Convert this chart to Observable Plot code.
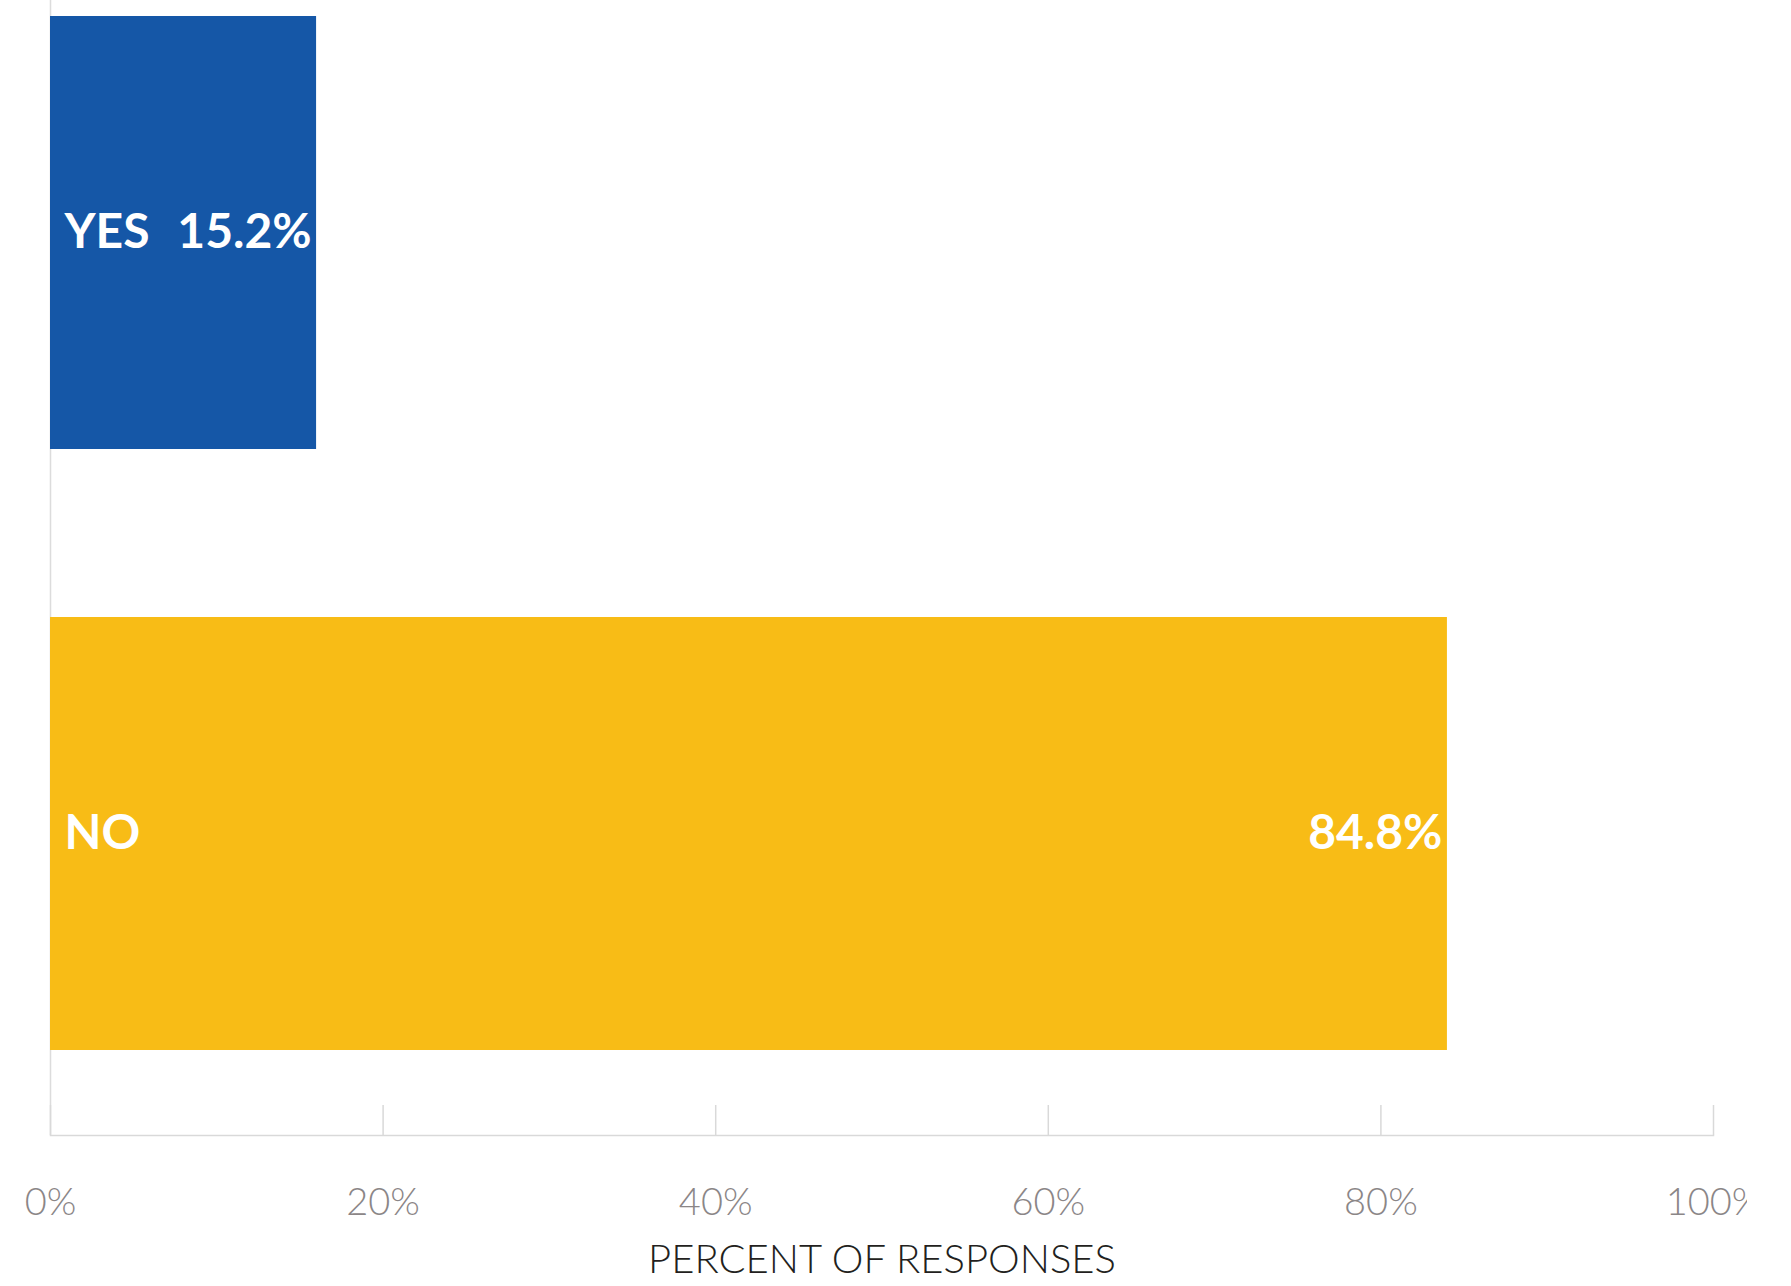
<!DOCTYPE html>
<html>
<head>
<meta charset="utf-8">
<script src="https://cdn.jsdelivr.net/npm/d3@7"></script>
<script src="https://cdn.jsdelivr.net/npm/@observablehq/plot@0.6"></script>
<style>
  html, body { margin: 0; padding: 0; background: #ffffff; }
  #chart svg { overflow: hidden; display: block; }
</style>
</head>
<body>
<div id="chart"></div>
<script>
// Data
const categories = ["YES", "NO"];
const barValues = [16.0, 84.0];           // bar lengths as drawn (percent)
const valueLabels = ["15.2%", "84.8%"];   // printed value labels
const barColors = ["#1557a7", "#f8bc16"];
const xTicks = [0, 20, 40, 60, 80, 100];
const xTickLabels = ["0%", "20%", "40%", "60%", "80%", "100%"];
const axisTitle = "PERCENT OF RESPONSES";

const rows = categories.map((c, i) => ({category: c, value: barValues[i], label: valueLabels[i]}));
const ticks = xTicks.map((t, i) => ({t, label: xTickLabels[i]}));

const chart = Plot.plot({
  width: 1747,
  height: 1286,
  marginTop: 0,
  marginLeft: 50,
  marginRight: 34,
  marginBottom: 151,
  style: {fontFamily: "Lato, 'Open Sans', sans-serif", background: "#ffffff"},
  x: {domain: [0, 100], axis: null},
  y: {domain: categories, range: [0, 1066], paddingInner: 0.279, paddingOuter: 0.0249, axis: null},
  color: {domain: categories, range: barColors},
  marks: [
    Plot.ruleX([0], {stroke: "#dcdcdc", strokeWidth: 1.5}),
    Plot.ruleX(ticks, {x: "t", insetTop: 1105, stroke: "#d9d9d9", strokeWidth: 1.5}),
    Plot.frame({anchor: "bottom", stroke: "#d9d9d9", strokeWidth: 1.5}),
    Plot.barX(rows, {x: "value", y: "category", fill: "category"}),
    Plot.text(rows, {x: 0, y: "category", text: "category", textAnchor: "start", dx: 14,
      fill: "white", fontSize: 48, fontWeight: "bold"}),
    Plot.text(rows, {x: "value", y: "category", text: "label", textAnchor: "end", dx: -5,
      fill: "white", fontSize: 48, fontWeight: "bold"}),
    Plot.text(ticks, {x: "t", text: "label", frameAnchor: "bottom", lineAnchor: "middle", dy: 67,
      fill: "#8b8687", fontSize: 38, fontWeight: 300}),
    Plot.text([axisTitle], {frameAnchor: "bottom", lineAnchor: "middle", dx: 0, dy: 125,
      fill: "#231f20", fontSize: 40, fontWeight: 300})
  ]
});
document.getElementById("chart").appendChild(chart);
</script>
</body>
</html>
